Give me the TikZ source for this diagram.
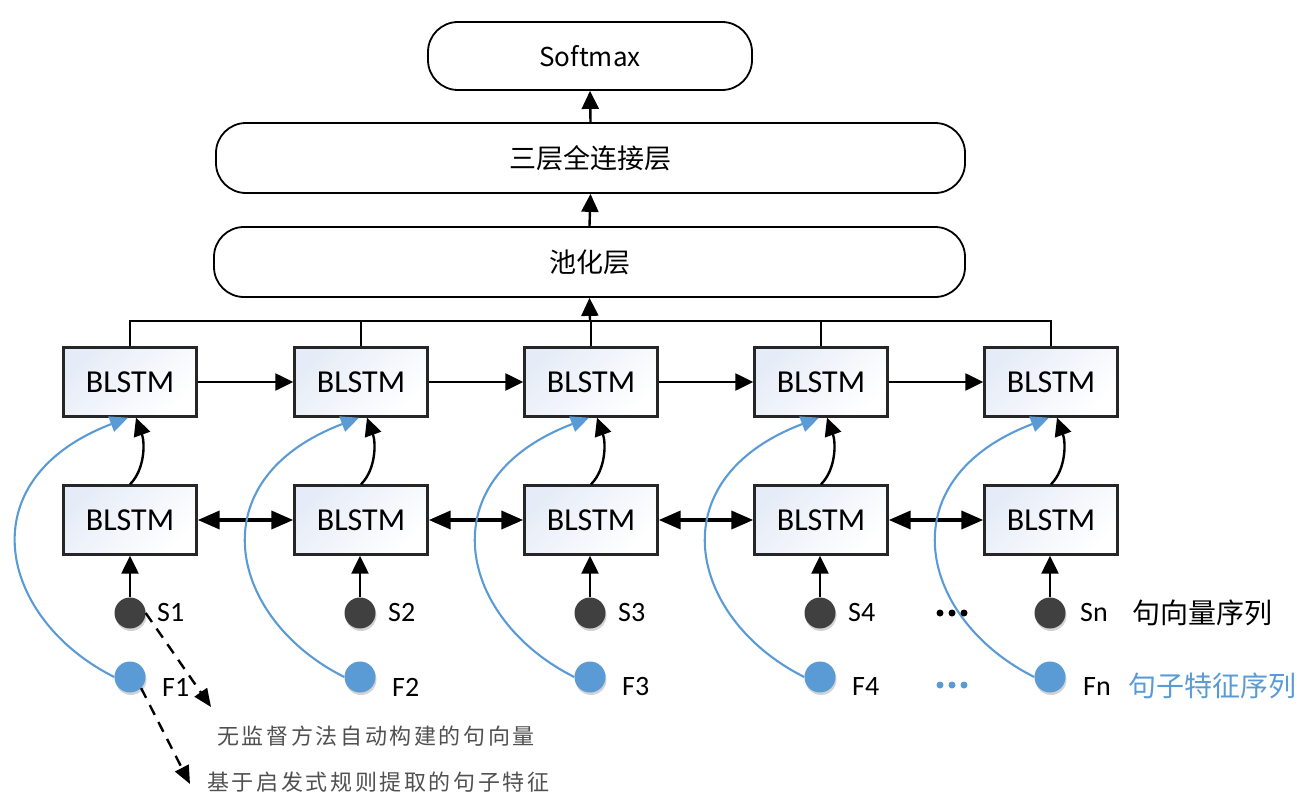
\documentclass[tikz,border=0pt]{standalone}
\usepackage{fontspec}
\setmainfont{Carlito}
\newfontfamily\cjk{Noto Sans CJK SC}
\newfontfamily\cjksp{Noto Sans CJK SC}[LetterSpace=12]
\usetikzlibrary{arrows.meta,shadows}
\definecolor{fblue}{HTML}{5B9BD5}
\definecolor{sgray}{HTML}{404040}
\definecolor{tgray}{HTML}{505050}
\definecolor{boxtint}{HTML}{E6ECF7}
\begin{document}
\begin{tikzpicture}[x=1pt,y=-1pt,
  layer/.style={draw=black, line width=1.8pt, rounded corners=30pt, inner sep=0pt,
    font=\cjk\fontsize{27}{27}\selectfont},
  blstm/.style={draw=black!85, line width=2.4pt, minimum width=133pt, minimum height=69pt,
    inner sep=0pt, left color=boxtint, right color=white, shading angle=45,
    font=\fontsize{32}{32}\selectfont},
  sdot/.style={circle, fill=sgray, minimum size=31pt, inner sep=0pt,
    drop shadow={opacity=0.35, shadow xshift=1pt, shadow yshift=-2.5pt}},
  fdot/.style={circle, fill=fblue, minimum size=31pt, inner sep=0pt,
    drop shadow={opacity=0.35, shadow xshift=1pt, shadow yshift=-2.5pt}},
  lab/.style={anchor=west, inner sep=0pt, font=\fontsize{28}{28}\selectfont},
  arr/.style={line width=2.4pt, -{Triangle[length=18pt,width=17pt]}},
  darr/.style={line width=3.8pt, {Triangle[length=22pt,width=18pt]}-{Triangle[length=22pt,width=18pt]}},
  barr/.style={fblue, line width=2.1pt, -{Triangle[length=18pt,width=16pt]}},
  dasharr/.style={line width=2.4pt, dash pattern=on 11pt off 8pt, -{Triangle[length=18pt,width=15pt]}},
  ptxt/.style={inner sep=0pt, text=tgray, font=\cjksp\fontsize{22}{22}\selectfont}
]
\useasboundingbox (0,0) rectangle (1307,808);

% layers
\node[layer, minimum width=324pt, minimum height=68pt] (soft) at (590,56) {\fontsize{26}{26}\selectfont Softmax};
\node[layer, minimum width=749pt, minimum height=70pt] (fc) at (590.5,158) {三层全连接层};
\node[layer, minimum width=751pt, minimum height=70pt] (pool) at (589.5,262) {池化层};
\draw[arr] (fc.north) -- (soft.south);
\draw[arr] (pool.north) -- (fc.south);

% columns
\foreach \i/\x in {1/130,2/361,3/591,4/821,5/1051} {
  \node[blstm] (u\i) at (\x,382) {BLSTM};
  \node[blstm] (l\i) at (\x,520) {BLSTM};
}
\foreach \i/\x in {1/130,2/360,3/590,4/820,5/1050} {
  \node[sdot] (s\i) at (\x,613) {};
  \node[fdot] (f\i) at (\x,677) {};
}

% bus to pooling
\coordinate (busL) at (130,321);
\coordinate (busR) at (1051,321);
\coordinate (busM) at (590,321);
\draw[line width=2.4pt] (u1.north) -- (u1.north |- busL) -- (busR) -- (u5.north);
\foreach \i in {2,3,4} { \draw[line width=2.4pt] (u\i.north) -- (u\i.north |- busL); }
\draw[arr] (busM) -- (pool.south);

% horizontal connections
\foreach \a/\b in {1/2,2/3,3/4,4/5} {
  \draw[arr] (u\a.east) -- (u\b.west);
  \draw[darr] (l\a.east) -- (l\b.west);
}

% vertical and curved connections
\foreach \i/\x in {1/130,2/360,3/590,4/820,5/1050} {
  \draw[arr] (s\i.north) -- (s\i.north |- l\i.south);
  \draw[arr] (l\i.north) .. controls ([shift={(15pt,15pt)}]l\i.north) and ([shift={(15pt,-25pt)}]l\i.north |- u\i.south) .. ([xshift=6pt]u\i.south);
  \draw[barr] (f\i.west) .. controls (\x-130,620) and (\x-165,480) .. ([xshift=-2pt]u\i.south);
}

% dots
\foreach \xx in {940,952,964} {
  \fill[black] (\xx,613) circle (3.5pt);
  \fill[fblue] (\xx,685) circle (3.5pt);
}

% labels
\node[lab] (ls1) at (157,613) {S1};
\node[lab] (ls2) at (388,613) {S2};
\node[lab] (ls3) at (618,613) {S3};
\node[lab] (ls4) at (848,613) {S4};
\node[lab] (ls5) at (1080,613) {Sn};
\node[lab] (lf1) at (162,687) {F1};
\node[lab] (lf2) at (392,687) {F2};
\node[lab] (lf3) at (622,687) {F3};
\node[lab] (lf4) at (852,687) {F4};
\node[lab] (lf5) at (1083,687) {Fn};
\node[lab, font=\cjk\fontsize{28}{28}\selectfont] (seqS) at (1132,613) {句向量序列};
\node[lab, text=fblue, font=\cjk\fontsize{28}{28}\selectfont] (seqF) at (1128,686) {句子特征序列};

% legend
\node[ptxt, anchor=west] (t1) at (217,736) {无监督方法自动构建的句向量};
\node[ptxt, anchor=west] (t2) at (207,782) {基于启发式规则提取的句子特征};
\coordinate (e1) at (211,707);
\coordinate (e2) at (190,784);
\draw[dasharr] (s1.east) -- (e1);
\draw[dasharr] (f1.south east) -- (e2);
\end{tikzpicture}
\end{document}
